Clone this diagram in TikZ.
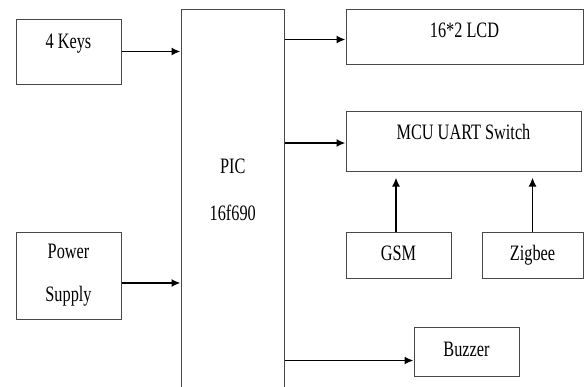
\documentclass[tikz,border=0pt]{standalone}
\usepackage{fontspec}
\setmainfont{Liberation Serif}[FakeStretch=0.74]
\usetikzlibrary{arrows.meta}
\definecolor{boxgray}{HTML}{484848}
\tikzset{
	blk/.style={draw=boxgray, line width=1pt, inner sep=0pt, text height=14.5pt},
	arr/.style={-{Latex[length=9pt,width=8pt]}, line width=1.7pt, black}
}
\begin{document}
\begin{tikzpicture}[x=1pt, y=-1pt, font=\fontsize{22}{26}\selectfont]
	\useasboundingbox (0,0) rectangle (584,386);
	\node[blk, minimum width=105pt, minimum height=65pt, text depth=21.5pt] (keys) at (68.5,51.5) {4 Keys};
	\node[blk, minimum width=105pt, minimum height=87pt, text height=, align=center] (power) at (68.5,275.5) {Power\\[17pt]Supply};
	\node[blk, minimum width=103.5pt, minimum height=391pt, anchor=north, text height=] (pic) at (232.75,9) {};
	\node[align=center] (piclbl) at (232.75,189.5) {PIC\\[21pt]16f690};
	\node[blk, minimum width=237pt, minimum height=55pt, text depth=13.5pt] (lcd) at (464.5,36.5) {16*2 LCD};
	\node[blk, minimum width=235pt, minimum height=60pt, text depth=18.5pt] (mcu) at (463.5,141) {MCU UART Switch};
	\node[blk, minimum width=105pt, minimum height=46pt, text depth=4.5pt] (gsm) at (398.5,255) {GSM};
	\node[blk, minimum width=101pt, minimum height=46pt, text depth=4.5pt] (zigbee) at (532.5,255) {Zigbee};
	\node[blk, minimum width=105pt, minimum height=49pt, text depth=5.5pt] (buzzer) at (466.5,351.5) {Buzzer};

	\coordinate (pwrout) at ([yshift=-7.5pt]power.east);
	\coordinate (lcdin) at ([yshift=-3pt]lcd.west);
	\coordinate (mcuin) at ([yshift=-2pt]mcu.west);
	\coordinate (buzin) at ([yshift=-9pt]buzzer.west);
	\coordinate (gsmout) at ([xshift=-2.5pt]gsm.north);

	\draw[arr] (keys.east) -- (keys.east -| pic.west);
	\draw[arr] (pwrout) -- (pwrout -| pic.west);
	\draw[arr] (pic.east |- lcdin) -- (lcdin);
	\draw[arr] (pic.east |- mcuin) -- (mcuin);
	\draw[arr] (pic.east |- buzin) -- (buzin);
	\draw[arr, shorten >=6pt] (gsmout) -- (gsmout |- mcu.south);
	\draw[arr, shorten >=6pt] (zigbee.north) -- (zigbee.north |- mcu.south);
\end{tikzpicture}
\end{document}
